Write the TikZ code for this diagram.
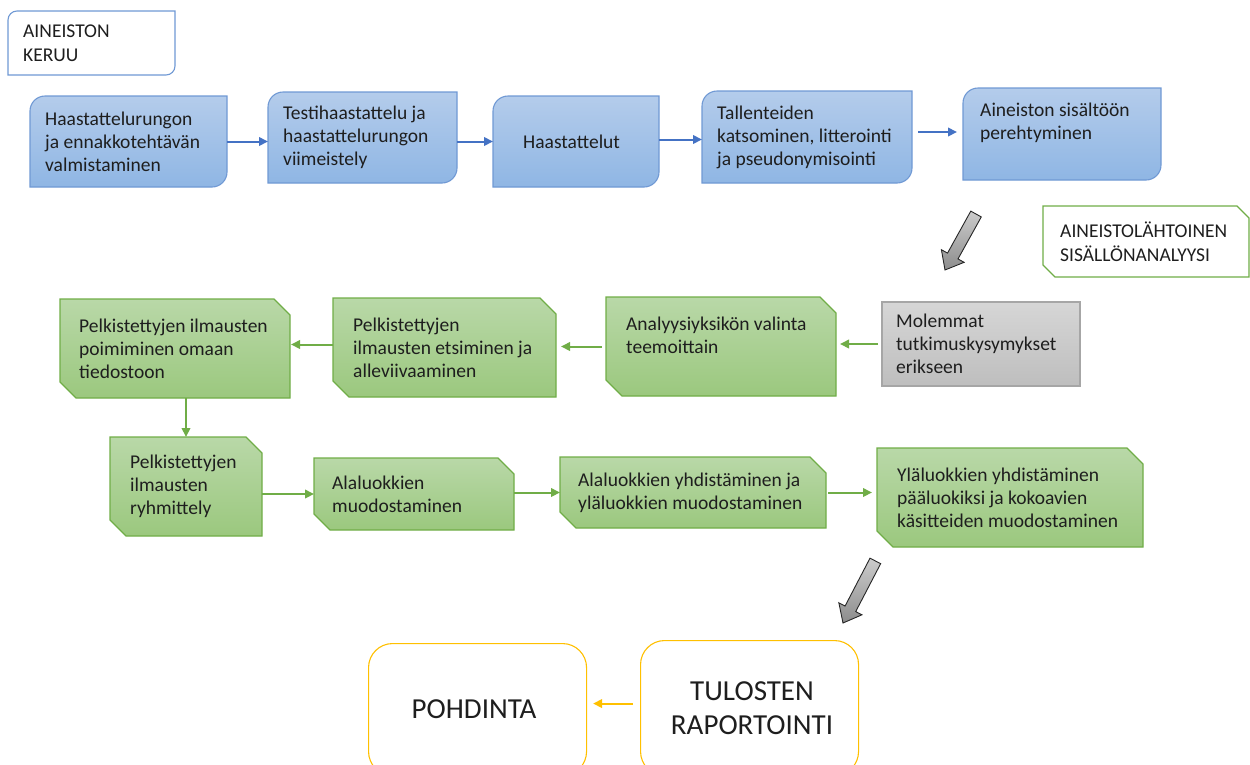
\documentclass[tikz,border=0pt]{standalone}
\usepackage{fontspec}
\setmainfont{Carlito}
\usetikzlibrary{backgrounds,calc,arrows.meta}
\definecolor{blueT}{RGB}{180,204,235}
\definecolor{blueB}{RGB}{143,182,228}
\definecolor{blueE}{RGB}{112,153,212}
\definecolor{blueA}{RGB}{68,114,196}
\definecolor{greenT}{RGB}{185,216,168}
\definecolor{greenB}{RGB}{155,200,126}
\definecolor{greenE}{RGB}{112,173,71}
\definecolor{grayT}{RGB}{214,214,214}
\definecolor{grayB}{RGB}{190,190,190}
\definecolor{grayE}{RGB}{166,166,166}
\definecolor{yellowE}{RGB}{255,192,0}
\definecolor{txtc}{RGB}{30,30,30}
\newcommand\mkbox[5]{\node[box, minimum width=#4pt, minimum height=#5pt] (#1) at (#2,-#3) {};}
\newcommand\rdiag[3]{\path[#3] (#1.south west) -- ([yshift=-#2pt]#1.north west) arc[start angle=180,end angle=90,radius=#2pt] -- (#1.north east) -- ([yshift=#2pt]#1.south east) arc[start angle=0,end angle=-90,radius=#2pt] -- cycle;}
\newcommand\snip[3]{\path[#3] (#1.north west) -- ([xshift=-#2pt]#1.north east) -- ([yshift=-#2pt]#1.north east) -- (#1.south east) -- ([xshift=#2pt]#1.south west) -- ([yshift=#2pt]#1.south west) -- cycle;}
\begin{document}
\begin{tikzpicture}[x=1pt,y=1pt,
  box/.style={anchor=north west, inner sep=0pt, outer sep=0pt},
  txt/.style={anchor=west, inner sep=0pt, align=left, text=txtc, font=\fontsize{19.5}{23}\selectfont},
  bluefill/.style={draw=blueE, line width=1.1pt, top color=blueT, bottom color=blueB},
  greenfill/.style={draw=greenE, line width=1.1pt, top color=greenT, bottom color=greenB},
  grayfill/.style={draw=grayE, line width=1.1pt, top color=grayT, bottom color=grayB},
  blueline/.style={draw=blueE, line width=1.1pt, fill=white},
  greenline/.style={draw=greenE, line width=1.1pt, fill=white},
  ybox/.style={anchor=north west, draw=yellowE, line width=1.1pt, fill=white, rounded corners=24pt, align=center, text=txtc, font=\fontsize{29}{34}\selectfont},
  tip/.style={-{Triangle[length=9pt,width=8.5pt]}},
  barrow/.style={draw=blueA, line width=2pt, tip},
  garrow/.style={draw=greenE, line width=2pt, tip},
  yarrow/.style={draw=yellowE, line width=2pt, tip},
  bigarrow/.style={draw=black!85, line width=0.9pt, top color=gray!40, bottom color=gray!90}
]
\useasboundingbox (0,0) rectangle (1250,-764);
\clip (0,0) rectangle (1250,-764);
% boxes
\mkbox{keruu}{8}{11}{167}{64}
\mkbox{b1}{30}{96}{197}{91}
\mkbox{b2}{268}{92}{189}{91}
\mkbox{b3}{493}{96}{166}{91}
\mkbox{b4}{702}{91}{210}{92}
\mkbox{b5}{963}{88}{198}{92}
\mkbox{lah}{1043}{206}{206}{71}
\mkbox{g0}{882}{302}{198}{84}
\mkbox{g1}{606}{297}{230}{99}
\mkbox{g2}{333}{298}{223}{99}
\mkbox{g3}{60}{299}{230}{99}
\mkbox{g4}{110}{437}{152}{99}
\mkbox{g5}{314}{458}{200}{72}
\mkbox{g6}{560}{457}{266}{71}
\mkbox{g7}{877}{448}{266}{99}
\node[ybox, minimum width=218pt, minimum height=135pt] (tul) at (640,-640) {\hspace*{5pt}TULOSTEN\\\hspace*{5pt}RAPORTOINTI};
\node[ybox, minimum width=218pt, minimum height=132pt] (poh) at (368,-643) {\hspace*{-7pt}POHDINTA};
% shapes
\begin{scope}[on background layer]
\rdiag{keruu}{9}{blueline}
\rdiag{b1}{15}{bluefill}
\rdiag{b2}{15}{bluefill}
\rdiag{b3}{15}{bluefill}
\rdiag{b4}{15}{bluefill}
\rdiag{b5}{15}{bluefill}
\snip{lah}{12}{greenline}
\path[grayfill] (g0.north west) rectangle (g0.south east);
\snip{g1}{16}{greenfill}
\snip{g2}{16}{greenfill}
\snip{g3}{16}{greenfill}
\snip{g4}{16}{greenfill}
\snip{g5}{16}{greenfill}
\snip{g6}{16}{greenfill}
\snip{g7}{16}{greenfill}
\end{scope}
% texts
\node[txt, font=\fontsize{19.5}{24}\selectfont] (tkeruu) at ([xshift=15pt]keruu.west) {AINEISTON\\KERUU};
\node[txt] (t1) at ([xshift=15pt]b1.west) {Haastattelurungon\\ja ennakkotehtävän\\valmistaminen};
\node[txt] (t2) at ([xshift=15pt]b2.west) {Testihaastattelu ja\\haastattelurungon\\viimeistely};
\node[txt] (t3) at ([xshift=30pt]b3.west) {Haastattelut};
\node[txt] (t4) at ([xshift=15pt]b4.west) {Tallenteiden\\katsominen, litterointi\\ja pseudonymisointi};
\node[txt] (t5) at ([xshift=17pt,yshift=11.5pt]b5.west) {Aineiston sisältöön\\perehtyminen};
\node[txt, font=\fontsize{19.5}{24.5}\selectfont] (tlah) at ([xshift=17pt]lah.west) {AINEISTOLÄHTOINEN\\SISÄLLÖNANALYYSI};
\node[txt] (tg0) at ([xshift=14pt]g0.west) {Molemmat\\tutkimuskysymykset\\erikseen};
\node[txt] (tg1) at ([xshift=20pt,yshift=11.5pt]g1.west) {Analyysiyksikön valinta\\teemoittain};
\node[txt] (tg2) at ([xshift=20pt]g2.west) {Pelkistettyjen\\ilmausten etsiminen ja\\alleviivaaminen};
\node[txt] (tg3) at ([xshift=19pt]g3.west) {Pelkistettyjen ilmausten\\poimiminen omaan\\tiedostoon};
\node[txt] (tg4) at ([xshift=20pt]g4.west) {Pelkistettyjen\\ilmausten\\ryhmittely};
\node[txt] (tg5) at ([xshift=18pt]g5.west) {Alaluokkien\\muodostaminen};
\node[txt] (tg6) at ([xshift=18pt]g6.west) {Alaluokkien yhdistäminen ja\\yläluokkien muodostaminen};
\node[txt] (tg7) at ([xshift=20pt]g7.west) {Yläluokkien yhdistäminen\\pääluokiksi ja kokoavien\\käsitteiden muodostaminen};
% connectors
\draw[barrow] (b1.east) -- (b1.east -| b2.west);
\draw[barrow] (b2.east |- b3.west) -- (b3.west);
\draw[barrow] ($(b3.east)+(0,2)$) -- ($(b3.east -| b4.west)+(0,2)$);
\draw[barrow, shorten <=6pt, shorten >=6pt] ($(b4.east |- b5.west)+(0,2)$) -- ($(b5.west)+(0,2)$);
\draw[garrow, shorten <=4pt, shorten >=4pt] (g0.west) -- (g0.west -| g1.east);
\draw[garrow, shorten <=4pt, shorten >=5pt] (g1.west) -- (g1.west -| g2.east);
\draw[garrow, shorten >=1pt] ($(g2.west)+(0,3)$) -- ($(g2.west -| g3.east)+(0,3)$);
\draw[garrow] (g3.south -| g4.north) -- (g4.north);
\draw[garrow] (g4.east |- g5.west) -- (g5.west);
\draw[garrow] (g5.east |- g6.west) -- (g6.west);
\draw[garrow, shorten <=2pt, shorten >=5pt] (g6.east) -- (g6.east -| g7.west);
\draw[yarrow, shorten <=7pt, shorten >=6pt] ($(tul.west)+(0,4.5)$) -- ($(tul.west -| poh.east)+(0,4.5)$);
% big gray arrows
\coordinate (ga1) at (945,-270);
\coordinate (ga2) at (843,-623);
\begin{scope}[shift={(ga1)}, rotate=241]
\path[bigarrow] (0,0) -- (-16,13) -- (-16,6) -- (-64,6) -- (-64,-6) -- (-16,-6) -- (-16,-13) -- cycle;
\end{scope}
\begin{scope}[shift={(ga2)}, rotate=242.5]
\path[bigarrow] (0,0) -- (-16,13) -- (-16,6) -- (-70,6) -- (-70,-6) -- (-16,-6) -- (-16,-13) -- cycle;
\end{scope}
\end{tikzpicture}
\end{document}
